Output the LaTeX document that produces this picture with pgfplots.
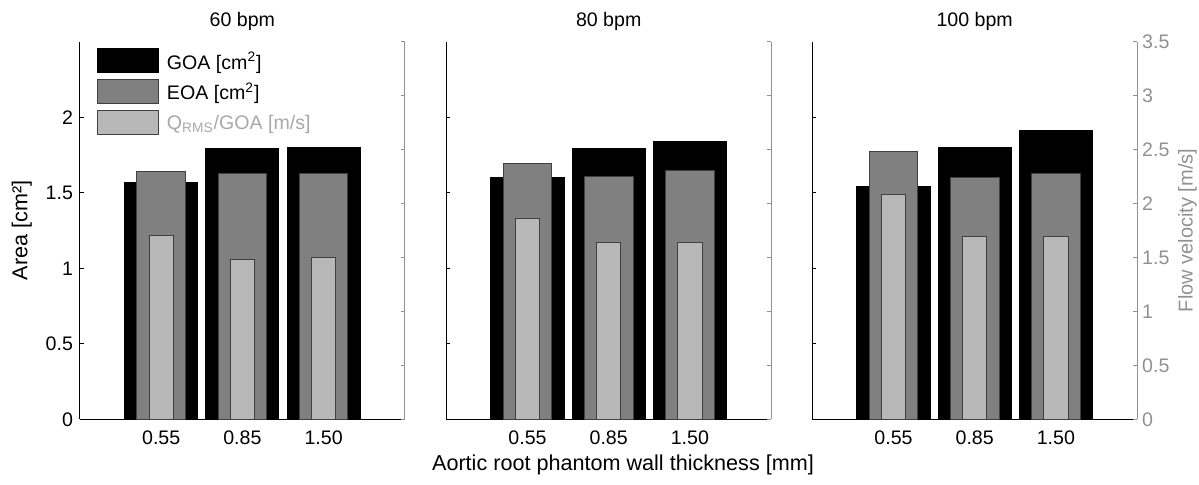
\documentclass[border=0pt]{standalone}
\usepackage{fontspec}
\setmainfont{Liberation Sans}
\usepackage{pgfplots}
\pgfplotsset{compat=1.18}

\definecolor{eoa}{gray}{0.50}
\definecolor{qrms}{gray}{0.72}
\definecolor{edge}{gray}{0.25}
\definecolor{rax}{gray}{0.57}
\definecolor{legq}{gray}{0.66}

\newcommand{\tickfont}{\fontsize{9.8}{11}\selectfont}
\newcommand{\labfont}{\fontsize{10.8}{12}\selectfont}

\pgfplotsset{
  panel/.style={
    scale only axis, width=162.4pt, height=188.8pt,
    xmin=0, xmax=4,
    tick align=inside, major tick length=2pt,
    /pgf/number format/assume math mode=true,
    tick label style={font=\tickfont},
  },
  leftax/.style={
    panel, ymin=0, ymax=2.5,
    axis x line*=bottom, axis y line*=left,
    xtick={1,2,3}, xticklabels={0.55,0.85,1.50},
    xtick style={draw=none},
    xticklabel style={yshift=-2pt},
    ytick={0,0.5,...,2},
    axis line style={black, line width=0.5pt},
    ytick style={black, line width=0.5pt},
    every axis title/.style={font=\tickfont, at={(axis description cs:0.5,1.053)}, anchor=center},
  },
  rightax/.style={
    panel, ymin=0, ymax=3.5,
    axis x line=none, axis y line*=right,
    ytick={0,0.5,...,3.5},
    axis line style={rax, line width=0.5pt},
    ytick style={rax, line width=0.5pt},
    yticklabel style={text=rax, xshift=-1pt},
  },
  goa/.style={ybar, bar width=0.9, bar shift=0pt, fill=black, draw=black, line width=0.5pt},
  eoa/.style={ybar, bar width=0.6, bar shift=0pt, fill=eoa, draw=edge, line width=0.5pt},
  qrms/.style={ybar, bar width=0.3, bar shift=0pt, fill=qrms, draw=edge, line width=0.5pt},
}

\begin{document}
\begin{tikzpicture}
\useasboundingbox (-40pt,-32.35pt) rectangle (559.5pt,209.65pt);

% ---- 60 bpm ----
\begin{axis}[leftax, at={(0pt,0pt)}, title={60 bpm},
  ylabel={Area [cm²]},
  ylabel style={font=\labfont, at={(axis description cs:-0.179,0.5)}, anchor=center},
  legend cell align=left,
  legend image code/.code={\draw[#1] (0pt,-6pt) rectangle (30.3pt,6pt);},
  legend style={at={(axis description cs:0,1)}, anchor=north west,
    xshift=8.3pt, yshift=-3pt, draw=none, fill=none, inner sep=0pt,
    row sep=2.9pt, font=\tickfont,
    nodes={inner sep=0pt, text depth=0pt}},
  /tikz/every odd column/.append style={column sep=4.2pt},
]
\addplot[goa] coordinates {(1,1.57) (2,1.79) (3,1.80)};
\addlegendentry{GOA [cm\textsuperscript{2}]}
\addplot[eoa] coordinates {(1,1.64) (2,1.63) (3,1.63)};
\addlegendentry{EOA [cm\textsuperscript{2}]}
\addlegendimage{fill=qrms, draw=edge, line width=0.5pt}
\addlegendentry{\textcolor{legq}{Q\textsubscript{RMS}/GOA [m/s]}}
\end{axis}
\begin{axis}[rightax, at={(0pt,0pt)}, yticklabels={}]
\addplot[qrms] coordinates {(1,1.70) (2,1.48) (3,1.50)};
\end{axis}

% ---- 80 bpm ----
\begin{axis}[leftax, at={(183.15pt,0pt)}, title={80 bpm}, yticklabels={},
  xlabel={Aortic root phantom wall thickness [mm]},
  xlabel style={font=\labfont, at={(axis description cs:0.544,-0.121)}, anchor=center},
]
\addplot[goa] coordinates {(1,1.60) (2,1.79) (3,1.84)};
\addplot[eoa] coordinates {(1,1.695) (2,1.61) (3,1.65)};
\end{axis}
\begin{axis}[rightax, at={(183.15pt,0pt)}, yticklabels={}]
\addplot[qrms] coordinates {(1,1.86) (2,1.64) (3,1.64)};
\end{axis}

% ---- 100 bpm ----
\begin{axis}[leftax, at={(366.15pt,0pt)}, title={100 bpm}, yticklabels={}]
\addplot[goa] coordinates {(1,1.54) (2,1.80) (3,1.91)};
\addplot[eoa] coordinates {(1,1.77) (2,1.60) (3,1.625)};
\end{axis}
\begin{axis}[rightax, at={(366.15pt,0pt)},
  ylabel={Flow velocity [m/s]},
  ylabel style={font=\fontsize{10}{12}\selectfont, text=rax,
    at={(axis description cs:1.155,0.5)}, anchor=center},
]
\addplot[qrms] coordinates {(1,2.085) (2,1.69) (3,1.69)};
\end{axis}
\end{tikzpicture}
\end{document}
